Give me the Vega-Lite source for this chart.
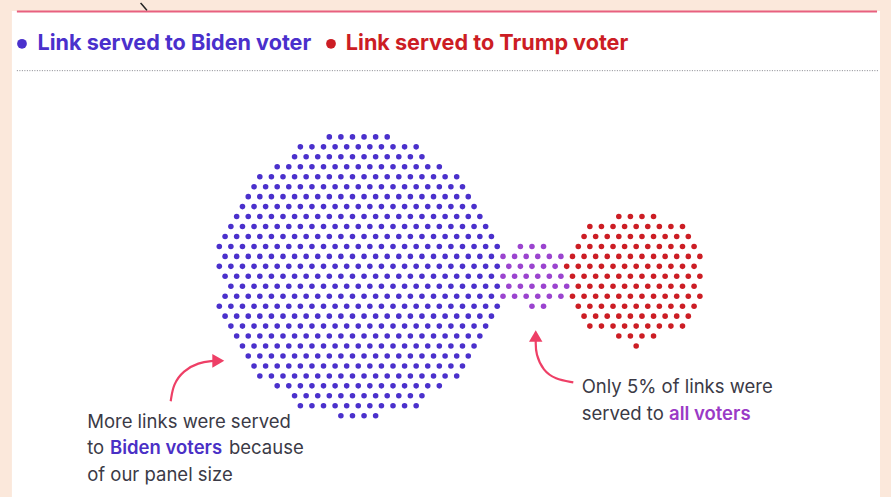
{
  "$schema": "https://vega.github.io/schema/vega-lite/v6.json",
  "width": 891,
  "height": 497,
  "autosize": {"type": "fit", "contains": "padding"},
  "padding": 0,
  "background": "#fbe8db",
  "config": {"view": {"stroke": null}, "font": "Inter"},
  "encoding": {
    "x": {"field": "c", "type": "quantitative", "scale": {"domain": [-37.876, 116.01], "nice": false, "zero": false}, "axis": null},
    "y": {"field": "r", "type": "quantitative", "scale": {"domain": [-13.443, 36.158], "nice": false, "zero": false, "reverse": true}, "axis": null}
  },
  "layer": [
    {
      "data": {"values": [{"c": -35.82, "c2": 114.11, "r": -12.645, "r2": 36.158}]},
      "mark": {"type": "rect", "fill": "#ffffff"},
      "encoding": {"x2": {"field": "c2"}, "y2": {"field": "r2"}}
    },
    {
      "data": {"values": [{"c": -34.96, "c2": 113.6, "r": -12.6}]},
      "mark": {"type": "rule", "color": "#e8607f", "strokeWidth": 2},
      "encoding": {"x2": {"field": "c2"}}
    },
    {
      "data": {"values": [{"c": -34.96, "c2": 113.9, "r": -6.65}]},
      "mark": {"type": "rule", "color": "#85858c", "strokeWidth": 1, "strokeDash": [1, 1.5]},
      "encoding": {"x2": {"field": "c2"}}
    },
    {
      "data": {"values": [{"a": 1, "o": 1, "c": -13.6, "r": -13.443}, {"a": 1, "o": 2, "c": -12.9, "r": -13.0}, {"a": 1, "o": 3, "c": -12.5, "r": -12.7}]},
      "mark": {"type": "line", "color": "#222222", "strokeWidth": 1.5, "interpolate": "basis"},
      "encoding": {"detail": {"field": "a"}, "order": {"field": "o"}}
    },
    {
      "data": {"values": [
        {"g": "Biden", "c": -34.08, "r": -9.35},
        {"g": "Trump", "c": 19.29, "r": -9.35}
      ]},
      "mark": {"type": "circle", "size": 95, "opacity": 1},
      "encoding": {"color": {"field": "g", "type": "nominal", "scale": {"domain": ["Biden", "Trump", "All"], "range": ["#4a30cc", "#cc1d24", "#9b44cf"]}, "legend": null}}
    },
    {
      "data": {"values": [
        {"g": "Biden", "c": -31.4, "r": -8.75, "t": "Link served to Biden voter"},
        {"g": "Trump", "c": 21.85, "r": -8.75, "t": "Link served to Trump voter"}
      ]},
      "mark": {"type": "text", "align": "left", "baseline": "alphabetic", "fontSize": 21.6, "fontWeight": 700},
      "encoding": {"text": {"field": "t"}, "color": {"field": "g", "type": "nominal", "scale": {"domain": ["Biden", "Trump", "All"], "range": ["#4a30c6", "#c8171e", "#9b44cf"]}, "legend": null}}
    },
    {
      "data": {"values": [
        {"g": "Biden", "r": 0, "cs": [19,21,23,25,27,29]},
        {"g": "Biden", "r": 1, "cs": [14,16,18,20,22,24,26,28,30,32,34]},
        {"g": "Biden", "r": 2, "cs": [13,15,17,19,21,23,25,27,29,31,33,35]},
        {"g": "Biden", "r": 3, "cs": [10,12,14,16,18,20,22,24,26,28,30,32,34,36,38]},
        {"g": "Biden", "r": 4, "cs": [7,9,11,13,15,17,19,21,23,25,27,29,31,33,35,37,39,41]},
        {"g": "Biden", "r": 5, "cs": [6,8,10,12,14,16,18,20,22,24,26,28,30,32,34,36,38,40,42]},
        {"g": "Biden", "r": 6, "cs": [5,7,9,11,13,15,17,19,21,23,25,27,29,31,33,35,37,39,41,43]},
        {"g": "Biden", "r": 7, "cs": [4,6,8,10,12,14,16,18,20,22,24,26,28,30,32,34,36,38,40,42,44]},
        {"g": "Biden", "r": 8, "cs": [3,5,7,9,11,13,15,17,19,21,23,25,27,29,31,33,35,37,39,41,43,45]},
        {"g": "Biden", "r": 9, "cs": [2,4,6,8,10,12,14,16,18,20,22,24,26,28,30,32,34,36,38,40,42,44,46]},
        {"g": "Biden", "r": 10, "cs": [1,3,5,7,9,11,13,15,17,19,21,23,25,27,29,31,33,35,37,39,41,43,45,47]},
        {"g": "Biden", "r": 11, "cs": [0,2,4,6,8,10,12,14,16,18,20,22,24,26,28,30,32,34,36,38,40,42,44,46,48]},
        {"g": "Biden", "r": 12, "cs": [1,3,5,7,9,11,13,15,17,19,21,23,25,27,29,31,33,35,37,39,41,43,45,47]},
        {"g": "Biden", "r": 13, "cs": [0,2,4,6,8,10,12,14,16,18,20,22,24,26,28,30,32,34,36,38,40,42,44,46,48]},
        {"g": "Biden", "r": 14, "cs": [1,3,5,7,9,11,13,15,17,19,21,23,25,27,29,31,33,35,37,39,41,43,45,47]},
        {"g": "Biden", "r": 15, "cs": [2,4,6,8,10,12,14,16,18,20,22,24,26,28,30,32,34,36,38,40,42,44,46,48]},
        {"g": "Biden", "r": 16, "cs": [1,3,5,7,9,11,13,15,17,19,21,23,25,27,29,31,33,35,37,39,41,43,45,47]},
        {"g": "Biden", "r": 17, "cs": [0,2,4,6,8,10,12,14,16,18,20,22,24,26,28,30,32,34,36,38,40,42,44,46,48]},
        {"g": "Biden", "r": 18, "cs": [1,3,5,7,9,11,13,15,17,19,21,23,25,27,29,31,33,35,37,39,41,43,45,47]},
        {"g": "Biden", "r": 19, "cs": [2,4,6,8,10,12,14,16,18,20,22,24,26,28,30,32,34,36,38,40,42,44,46]},
        {"g": "Biden", "r": 20, "cs": [3,5,7,9,11,13,15,17,19,21,23,25,27,29,31,33,35,37,39,41,43,45]},
        {"g": "Biden", "r": 21, "cs": [4,6,8,10,12,14,16,18,20,22,24,26,28,30,32,34,36,38,40,42,44]},
        {"g": "Biden", "r": 22, "cs": [5,7,9,11,13,15,17,19,21,23,25,27,29,31,33,35,37,39,41,43]},
        {"g": "Biden", "r": 23, "cs": [6,8,10,12,14,16,18,20,22,24,26,28,30,32,34,36,38,40,42]},
        {"g": "Biden", "r": 24, "cs": [7,9,11,13,15,17,19,21,23,25,27,29,31,33,35,37,39,41]},
        {"g": "Biden", "r": 25, "cs": [10,12,14,16,18,20,22,24,26,28,30,32,34,36,38]},
        {"g": "Biden", "r": 26, "cs": [13,15,17,19,21,23,25,27,29,31,33,35]},
        {"g": "Biden", "r": 27, "cs": [14,16,18,20,22,24,26,28,30,32,34]},
        {"g": "Biden", "r": 28, "cs": [21,23,25,27]},
        {"g": "All", "r": 11, "cs": [52,54,56]},
        {"g": "All", "r": 12, "cs": [49,51,53,55,57,59]},
        {"g": "All", "r": 13, "cs": [50,52,54,56,58]},
        {"g": "All", "r": 14, "cs": [49,51,53,55,57,59]},
        {"g": "All", "r": 15, "cs": [50,52,54,56,58,60]},
        {"g": "All", "r": 16, "cs": [49,51,53,55,57,59]},
        {"g": "All", "r": 17, "cs": [54,56]},
        {"g": "Trump", "r": 8, "cs": [69,71,73,75]},
        {"g": "Trump", "r": 9, "cs": [64,66,68,70,72,74,76,78,80]},
        {"g": "Trump", "r": 10, "cs": [63,65,67,69,71,73,75,77,79,81]},
        {"g": "Trump", "r": 11, "cs": [62,64,66,68,70,72,74,76,78,80,82]},
        {"g": "Trump", "r": 12, "cs": [61,63,65,67,69,71,73,75,77,79,81,83]},
        {"g": "Trump", "r": 13, "cs": [60,62,64,66,68,70,72,74,76,78,80,82]},
        {"g": "Trump", "r": 14, "cs": [61,63,65,67,69,71,73,75,77,79,81,83]},
        {"g": "Trump", "r": 15, "cs": [62,64,66,68,70,72,74,76,78,80,82]},
        {"g": "Trump", "r": 16, "cs": [61,63,65,67,69,71,73,75,77,79,81,83]},
        {"g": "Trump", "r": 17, "cs": [62,64,66,68,70,72,74,76,78,80,82]},
        {"g": "Trump", "r": 18, "cs": [63,65,67,69,71,73,75,77,79,81]},
        {"g": "Trump", "r": 19, "cs": [64,66,68,70,72,74,76,78,80]},
        {"g": "Trump", "r": 20, "cs": [69,71,73,75]},
        {"g": "Trump", "r": 21, "cs": [72]}
      ]},
      "transform": [{"flatten": ["cs"], "as": ["c"]}],
      "mark": {"type": "circle", "size": 31, "opacity": 1},
      "encoding": {"color": {"field": "g", "type": "nominal", "scale": {"domain": ["Biden", "Trump", "All"], "range": ["#4a30cc", "#cc1d24", "#9b44cf"]}, "legend": null}}
    },
    {
      "data": {"values": [
        {"a": "left", "o": 1, "c": -8.394, "r": 26.547},
        {"a": "left", "o": 2, "c": -7.945, "r": 24.81},
        {"a": "left", "o": 3, "c": -6.218, "r": 23.483},
        {"a": "left", "o": 4, "c": -3.627, "r": 22.655},
        {"a": "left", "o": 5, "c": -1.0, "r": 22.485},
        {"a": "right", "o": 1, "c": 61.14, "r": 24.65},
        {"a": "right", "o": 2, "c": 57.98, "r": 24.31},
        {"a": "right", "o": 3, "c": 55.96, "r": 23.48},
        {"a": "right", "o": 4, "c": 54.65, "r": 21.82},
        {"a": "right", "o": 5, "c": 54.65, "r": 20.5}
      ]},
      "mark": {"type": "line", "color": "#ee3f66", "strokeWidth": 2.2, "interpolate": "basis"},
      "encoding": {"detail": {"field": "a"}, "order": {"field": "o"}}
    },
    {
      "data": {"values": [{"c": -0.173, "r": 22.485}]},
      "mark": {"type": "point", "shape": "triangle-right", "filled": true, "size": 190, "color": "#ee3f66", "opacity": 1}
    },
    {
      "data": {"values": [{"c": 54.65, "r": 19.99}]},
      "mark": {"type": "point", "shape": "triangle-up", "filled": true, "size": 180, "color": "#ee3f66", "opacity": 1}
    },
    {
      "data": {"values": [
        {"c": -22.82, "r": 29.2, "t": "More links were served"},
        {"c": -22.82, "r": 31.87, "t": "to"},
        {"c": 1.675, "r": 31.87, "t": "because"},
        {"c": -22.82, "r": 34.53, "t": "of our panel size"},
        {"c": 62.59, "r": 25.75, "t": "Only 5% of links were"},
        {"c": 62.59, "r": 28.47, "t": "served to"}
      ]},
      "mark": {"type": "text", "align": "left", "baseline": "alphabetic", "fontSize": 18.5, "color": "#3b3a46"},
      "encoding": {"text": {"field": "t"}}
    },
    {
      "data": {"values": [{"c": -18.877, "r": 31.87, "t": "Biden voters"}]},
      "mark": {"type": "text", "align": "left", "baseline": "alphabetic", "fontSize": 18.5, "fontWeight": 600, "color": "#4a30c6"},
      "encoding": {"text": {"field": "t"}}
    },
    {
      "data": {"values": [{"c": 77.67, "r": 28.47, "t": "all voters"}]},
      "mark": {"type": "text", "align": "left", "baseline": "alphabetic", "fontSize": 18.5, "fontWeight": 600, "color": "#9a3ac6"},
      "encoding": {"text": {"field": "t"}}
    }
  ]
}
